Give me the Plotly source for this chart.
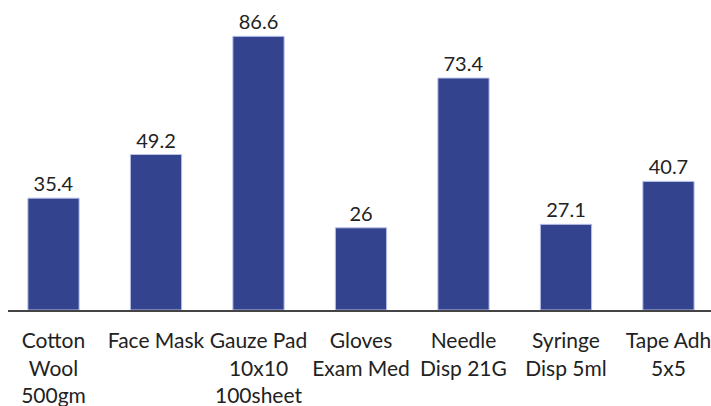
import plotly.graph_objects as go

categories = ["Cotton<br>Wool<br>500gm", "Face Mask", "Gauze Pad<br>10x10<br>100sheet",
              "Gloves<br>Exam Med", "Needle<br>Disp 21G", "Syringe<br>Disp 5ml", "Tape Adh<br>5x5"]
values = [35.4, 49.2, 86.6, 26, 73.4, 27.1, 40.7]
value_labels = ["35.4", "49.2", "86.6", "26", "73.4", "27.1", "40.7"]

fig = go.Figure(go.Bar(
    x=list(range(len(categories))),
    y=values,
    text=value_labels,
    textposition="outside",
    textfont=dict(size=20, color="#222222", family="Lato"),
    cliponaxis=False,
    width=0.5,
    marker=dict(color="#34438e", line=dict(color="#b9c1ea", width=1)),
))

fig.update_layout(
    width=711, height=406,
    margin=dict(l=8, r=0, t=0, b=96),
    paper_bgcolor="white", plot_bgcolor="white",
    font=dict(family="Lato", size=21, color="#222222"),
    showlegend=False,
    xaxis=dict(
        tickmode="array", tickvals=list(range(len(categories))), ticktext=categories,
        range=[-0.444, 6.415], showline=True, linecolor="#444444", linewidth=2,
        showgrid=False, zeroline=False, ticks="", ticklabelstandoff=11,
        ticklabeloverflow="allow",
        tickfont=dict(size=21, family="Lato", color="#222222"),
    ),
    yaxis=dict(range=[0, 98.1], visible=False, showgrid=False, zeroline=False),
)

fig.write_html("out.html", config={"displayModeBar": False},
               post_script="document.body.style.margin='0';")
